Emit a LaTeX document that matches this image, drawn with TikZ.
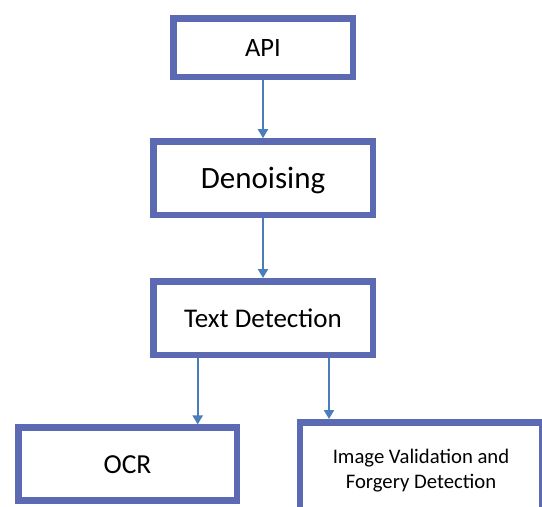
\documentclass[tikz,border=0pt]{standalone}
\usepackage{fontspec}
\setmainfont{Carlito}
\usetikzlibrary{arrows.meta}
\definecolor{boxborder}{RGB}{92,106,180}
\definecolor{arrowblue}{RGB}{74,126,187}
\tikzset{
  stagebox/.style={draw=boxborder, line width=6.5pt, fill=white, inner sep=0pt,
    outer sep=3.25pt, align=center, text=black},
  flowarrow/.style={draw=arrowblue, line width=2pt,
    -{Triangle[width=10pt,length=9pt]}}
}
\begin{document}
\begin{tikzpicture}[x=1pt,y=-1pt]
\useasboundingbox (0,0) rectangle (542,507);
\clip (0,0) rectangle (542,507);
\fill[white] (0,0) rectangle (542,507);
\node[stagebox, minimum width=179.5pt, minimum height=58.5pt,
  font=\fontsize{26.5}{32}\selectfont] (api) at (263,47.5) {API};
\node[stagebox, minimum width=219.5pt, minimum height=73.5pt,
  font=\fontsize{31}{37}\selectfont, text depth=0pt] (den) at (263,178.2) {Denoising};
\node[stagebox, minimum width=219.5pt, minimum height=73.5pt,
  font=\fontsize{27}{32}\selectfont, text depth=0pt] (td) at (263,318) {Text Detection};
\node[stagebox, minimum width=218.5pt, minimum height=73pt,
  font=\fontsize{27.5}{33}\selectfont] (ocr) at (127.5,464.2) {OCR};
\node[stagebox, minimum width=242.5pt, minimum height=97.5pt,
  font=\fontsize{20.7}{25}\selectfont] (img) at (421,471)
  {Image Validation and\\Forgery Detection};
\draw[flowarrow] (api.south) -- (den.north);
\draw[flowarrow] (den.south) -- (td.north);
\draw[flowarrow] ([xshift=-65.3pt]td.south) -- ([xshift=-65.3pt]td.south |- ocr.north);
\draw[flowarrow] ([xshift=66pt]td.south) -- ([xshift=66pt]td.south |- img.north);
\end{tikzpicture}
\end{document}
